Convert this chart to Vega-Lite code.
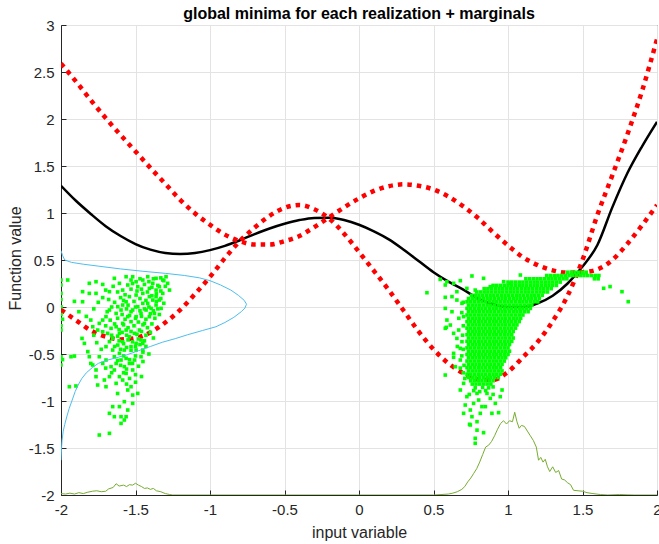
{
"$schema":"https://vega.github.io/schema/vega-lite/v6.json",
"width":596,"height":470,
"autosize":{"type":"none"},
"padding":{"left":61,"top":25,"right":2,"bottom":49},
"background":"white",
"title":{"text":"global minima for each realization + marginals","font":"Liberation Sans","fontSize":16,"fontWeight":"bold","color":"#000000","anchor":"middle","offset":5,"dy":9},
"config":{
 "view":{"stroke":"#262626","strokeWidth":1},
 "axis":{"gridColor":"#e3e3e3","gridWidth":1,"domainColor":"#262626","tickColor":"#262626","tickSize":-5,"labelColor":"#262626","labelFont":"Liberation Sans","labelFontSize":15,"titleFont":"Liberation Sans","titleFontSize":16,"titleColor":"#262626","titleFontWeight":"normal","labelFlush":false,"labelOverlap":false}
},
"datasets":{
"mean":[{"x":-2,"y":1.29},{"x":-1.9,"y":1.13},{"x":-1.8,"y":0.99},{"x":-1.7,"y":0.86},{"x":-1.6,"y":0.755},{"x":-1.5,"y":0.67},{"x":-1.4,"y":0.61},{"x":-1.3,"y":0.575},{"x":-1.2,"y":0.565},{"x":-1.1,"y":0.575},{"x":-1.0,"y":0.605},{"x":-0.9,"y":0.65},{"x":-0.8,"y":0.71},{"x":-0.7,"y":0.775},{"x":-0.6,"y":0.835},{"x":-0.5,"y":0.885},{"x":-0.4,"y":0.925},{"x":-0.3,"y":0.948},{"x":-0.2,"y":0.95},{"x":-0.1,"y":0.925},{"x":0,"y":0.875},{"x":0.1,"y":0.805},{"x":0.2,"y":0.72},{"x":0.3,"y":0.61},{"x":0.4,"y":0.49},{"x":0.5,"y":0.37},{"x":0.6,"y":0.27},{"x":0.7,"y":0.185},{"x":0.8,"y":0.09},{"x":0.9,"y":0.03},{"x":1.0,"y":0.0},{"x":1.1,"y":0.0},{"x":1.2,"y":0.04},{"x":1.3,"y":0.12},{"x":1.4,"y":0.25},{"x":1.5,"y":0.43},{"x":1.6,"y":0.66},{"x":1.7,"y":1.06},{"x":1.8,"y":1.42},{"x":1.9,"y":1.71},{"x":2.0,"y":1.97}],
"c1":[{"x":-2,"y":2.59},{"x":-1.9,"y":2.4},{"x":-1.8,"y":2.2},{"x":-1.7,"y":2.01},{"x":-1.6,"y":1.83},{"x":-1.5,"y":1.655},{"x":-1.4,"y":1.48},{"x":-1.3,"y":1.31},{"x":-1.2,"y":1.14},{"x":-1.1,"y":0.995},{"x":-1.0,"y":0.875},{"x":-0.9,"y":0.77},{"x":-0.8,"y":0.7},{"x":-0.7,"y":0.665},{"x":-0.6,"y":0.665},{"x":-0.5,"y":0.7},{"x":-0.4,"y":0.755},{"x":-0.3,"y":0.85},{"x":-0.2,"y":0.955},{"x":-0.1,"y":1.06},{"x":0,"y":1.155},{"x":0.1,"y":1.235},{"x":0.2,"y":1.285},{"x":0.3,"y":1.305},{"x":0.4,"y":1.29},{"x":0.5,"y":1.25},{"x":0.6,"y":1.175},{"x":0.7,"y":1.07},{"x":0.8,"y":0.945},{"x":0.9,"y":0.795},{"x":1.0,"y":0.655},{"x":1.1,"y":0.53},{"x":1.2,"y":0.445},{"x":1.3,"y":0.39},{"x":1.4,"y":0.365},{"x":1.5,"y":0.37},{"x":1.6,"y":0.4},{"x":1.7,"y":0.5},{"x":1.8,"y":0.67},{"x":1.9,"y":0.87},{"x":2.0,"y":1.085}],
"c2":[{"x":-2,"y":-0.03},{"x":-1.9,"y":-0.14},{"x":-1.8,"y":-0.25},{"x":-1.7,"y":-0.315},{"x":-1.6,"y":-0.345},{"x":-1.5,"y":-0.33},{"x":-1.4,"y":-0.27},{"x":-1.3,"y":-0.165},{"x":-1.2,"y":-0.03},{"x":-1.1,"y":0.14},{"x":-1.0,"y":0.32},{"x":-0.9,"y":0.52},{"x":-0.8,"y":0.7},{"x":-0.7,"y":0.845},{"x":-0.6,"y":0.97},{"x":-0.5,"y":1.055},{"x":-0.4,"y":1.085},{"x":-0.3,"y":1.04},{"x":-0.2,"y":0.94},{"x":-0.1,"y":0.78},{"x":0,"y":0.585},{"x":0.1,"y":0.385},{"x":0.2,"y":0.18},{"x":0.3,"y":-0.04},{"x":0.4,"y":-0.26},{"x":0.5,"y":-0.45},{"x":0.6,"y":-0.6},{"x":0.7,"y":-0.705},{"x":0.8,"y":-0.77},{"x":0.9,"y":-0.775},{"x":1.0,"y":-0.69},{"x":1.1,"y":-0.535},{"x":1.2,"y":-0.37},{"x":1.3,"y":-0.15},{"x":1.4,"y":0.12},{"x":1.5,"y":0.5},{"x":1.6,"y":0.98},{"x":1.7,"y":1.4},{"x":1.8,"y":1.83},{"x":1.9,"y":2.3},{"x":2.0,"y":2.85}],
"xm":[{"x":-2,"y":-1.985},{"x":-1.97,"y":-1.99},{"x":-1.94,"y":-1.98},{"x":-1.91,"y":-1.99},{"x":-1.88,"y":-1.975},{"x":-1.85,"y":-1.985},{"x":-1.82,"y":-1.97},{"x":-1.79,"y":-1.96},{"x":-1.76,"y":-1.955},{"x":-1.73,"y":-1.965},{"x":-1.7,"y":-1.96},{"x":-1.68,"y":-1.935},{"x":-1.65,"y":-1.92},{"x":-1.63,"y":-1.88},{"x":-1.61,"y":-1.905},{"x":-1.58,"y":-1.895},{"x":-1.56,"y":-1.91},{"x":-1.54,"y":-1.89},{"x":-1.52,"y":-1.895},{"x":-1.5,"y":-1.875},{"x":-1.48,"y":-1.895},{"x":-1.46,"y":-1.91},{"x":-1.44,"y":-1.93},{"x":-1.42,"y":-1.925},{"x":-1.4,"y":-1.94},{"x":-1.38,"y":-1.93},{"x":-1.36,"y":-1.955},{"x":-1.33,"y":-1.965},{"x":-1.3,"y":-1.985},{"x":-1.27,"y":-1.995},{"x":-1.25,"y":-2},{"x":0.5,"y":-2},{"x":0.55,"y":-1.995},{"x":0.6,"y":-1.99},{"x":0.63,"y":-1.98},{"x":0.66,"y":-1.965},{"x":0.69,"y":-1.94},{"x":0.71,"y":-1.91},{"x":0.73,"y":-1.86},{"x":0.75,"y":-1.82},{"x":0.77,"y":-1.77},{"x":0.79,"y":-1.72},{"x":0.81,"y":-1.65},{"x":0.83,"y":-1.57},{"x":0.85,"y":-1.49},{"x":0.87,"y":-1.47},{"x":0.89,"y":-1.43},{"x":0.91,"y":-1.37},{"x":0.93,"y":-1.3},{"x":0.95,"y":-1.24},{"x":0.97,"y":-1.21},{"x":0.99,"y":-1.245},{"x":1.01,"y":-1.21},{"x":1.03,"y":-1.22},{"x":1.045,"y":-1.12},{"x":1.06,"y":-1.22},{"x":1.075,"y":-1.29},{"x":1.09,"y":-1.26},{"x":1.11,"y":-1.27},{"x":1.13,"y":-1.32},{"x":1.15,"y":-1.37},{"x":1.17,"y":-1.42},{"x":1.19,"y":-1.49},{"x":1.205,"y":-1.63},{"x":1.22,"y":-1.6},{"x":1.235,"y":-1.65},{"x":1.25,"y":-1.62},{"x":1.265,"y":-1.7},{"x":1.28,"y":-1.75},{"x":1.3,"y":-1.7},{"x":1.32,"y":-1.76},{"x":1.34,"y":-1.74},{"x":1.36,"y":-1.83},{"x":1.38,"y":-1.84},{"x":1.4,"y":-1.87},{"x":1.42,"y":-1.89},{"x":1.44,"y":-1.95},{"x":1.47,"y":-1.955},{"x":1.5,"y":-1.96},{"x":1.53,"y":-1.975},{"x":1.57,"y":-1.985},{"x":1.62,"y":-1.995},{"x":1.67,"y":-2},{"x":1.75,"y":-1.995},{"x":1.8,"y":-1.998},{"x":1.85,"y":-2},{"x":2,"y":-2}],
"ym":[{"x":-2,"y":0.6},{"x":-1.99,"y":0.55},{"x":-1.975,"y":0.5},{"x":-1.93,"y":0.475},{"x":-1.85,"y":0.455},{"x":-1.75,"y":0.435},{"x":-1.6,"y":0.405},{"x":-1.45,"y":0.38},{"x":-1.3,"y":0.358},{"x":-1.17,"y":0.335},{"x":-1.07,"y":0.31},{"x":-1.0,"y":0.28},{"x":-0.93,"y":0.235},{"x":-0.86,"y":0.18},{"x":-0.81,"y":0.125},{"x":-0.77,"y":0.07},{"x":-0.755,"y":0.03},{"x":-0.765,"y":-0.01},{"x":-0.79,"y":-0.05},{"x":-0.84,"y":-0.11},{"x":-0.9,"y":-0.165},{"x":-0.96,"y":-0.21},{"x":-1.05,"y":-0.25},{"x":-1.15,"y":-0.295},{"x":-1.23,"y":-0.335},{"x":-1.32,"y":-0.375},{"x":-1.4,"y":-0.42},{"x":-1.48,"y":-0.465},{"x":-1.56,"y":-0.51},{"x":-1.64,"y":-0.545},{"x":-1.7,"y":-0.57},{"x":-1.75,"y":-0.6},{"x":-1.79,"y":-0.645},{"x":-1.83,"y":-0.7},{"x":-1.86,"y":-0.76},{"x":-1.885,"y":-0.83},{"x":-1.905,"y":-0.9},{"x":-1.925,"y":-0.99},{"x":-1.945,"y":-1.08},{"x":-1.96,"y":-1.16},{"x":-1.975,"y":-1.25},{"x":-1.985,"y":-1.32},{"x":-1.993,"y":-1.42},{"x":-1.997,"y":-1.52},{"x":-2,"y":-1.63}],
"pts":[
{"x":-2.0,"y":0.287},{"x":-2.0,"y":0.234},{"x":-2.0,"y":0.145},{"x":-2.0,"y":0.08},{"x":-2.0,"y":0.003},{"x":-2.0,"y":-0.08},{"x":-1.99,"y":-0.13},{"x":-2.0,"y":-0.2},{"x":-2.0,"y":-0.245},{"x":-1.955,"y":0.287},{"x":-2.0,"y":-0.529},{"x":-1.99,"y":-0.56},{"x":-2.0,"y":-0.617},{"x":-1.944,"y":-0.848},{"x":-1.9,"y":-0.84},{"x":-1.933,"y":-0.529},{"x":-1.91,"y":-0.522},{"x":-1.855,"y":0.163},{"x":-1.855,"y":0.056},{"x":-1.859,"y":-0.334},{"x":-1.843,"y":-0.387},{"x":-1.81,"y":0.252},{"x":-1.81,"y":0.145},{"x":-1.8,"y":-0.139},{"x":-1.787,"y":-0.21},{"x":-1.765,"y":0.269},{"x":-1.765,"y":0.145},{"x":-1.82,"y":-0.475},{"x":-1.81,"y":-0.529},{"x":-1.8,"y":-0.6},{"x":-1.787,"y":-0.617},{"x":-1.765,"y":-0.67},{"x":-1.765,"y":-0.741},{"x":-1.754,"y":-0.83},{"x":-1.743,"y":-1.362},{"x":-1.675,"y":-1.131},{"x":-1.653,"y":-1.06},{"x":-1.642,"y":0.305},{"x":-1.675,"y":0.163},{"x":-1.619,"y":0.003},{"x":-1.608,"y":0.252},{"x":-1.586,"y":0.18},{"x":-1.586,"y":0.021},{"x":-1.563,"y":0.322},{"x":-1.552,"y":0.234},{"x":-1.53,"y":0.287},{"x":-1.519,"y":0.322},{"x":-1.496,"y":0.269},{"x":-1.485,"y":0.216},{"x":-1.451,"y":0.287},{"x":-1.418,"y":0.322},{"x":-1.407,"y":0.198},{"x":-1.384,"y":0.252},{"x":-1.362,"y":0.305},{"x":-1.34,"y":0.216},{"x":-1.317,"y":0.287},{"x":-1.295,"y":0.322},{"x":-1.284,"y":0.252},{"x":-1.272,"y":0.18},{"x":-1.317,"y":0.145},{"x":-1.362,"y":0.11},{"x":-1.407,"y":0.11},{"x":-1.451,"y":0.145},{"x":-1.496,"y":0.127},{"x":-1.541,"y":0.11},{"x":-1.563,"y":0.056},{"x":-1.597,"y":-0.032},{"x":-1.63,"y":-0.068},{"x":-1.675,"y":-0.032},{"x":-1.698,"y":-0.103},{"x":-1.72,"y":-0.139},{"x":-1.743,"y":-0.174},{"x":-1.754,"y":-0.245},{"x":-1.72,"y":-0.263},{"x":-1.687,"y":-0.28},{"x":-1.664,"y":-0.227},{"x":-1.63,"y":-0.21},{"x":-1.586,"y":-0.174},{"x":-1.552,"y":-0.103},{"x":-1.519,"y":-0.032},{"x":-1.485,"y":0.003},{"x":-1.451,"y":0.039},{"x":-1.418,"y":0.039},{"x":-1.384,"y":0.074},{"x":-1.362,"y":0.021},{"x":-1.34,"y":0.074},{"x":-1.463,"y":-0.068},{"x":-1.496,"y":-0.103},{"x":-1.53,"y":-0.156},{"x":-1.563,"y":-0.245},{"x":-1.608,"y":-0.28},{"x":-1.653,"y":-0.334},{"x":-1.675,"y":-0.369},{"x":-1.698,"y":-0.422},{"x":-1.653,"y":-0.458},{"x":-1.619,"y":-0.405},{"x":-1.586,"y":-0.369},{"x":-1.541,"y":-0.316},{"x":-1.507,"y":-0.28},{"x":-1.474,"y":-0.245},{"x":-1.44,"y":-0.174},{"x":-1.407,"y":-0.103},{"x":-1.373,"y":-0.068},{"x":-1.429,"y":-0.032},{"x":-1.395,"y":-0.015},{"x":-1.362,"y":0.18},{"x":-1.328,"y":-0.015},{"x":-1.642,"y":-0.529},{"x":-1.608,"y":-0.493},{"x":-1.575,"y":-0.458},{"x":-1.53,"y":-0.422},{"x":-1.496,"y":-0.387},{"x":-1.463,"y":-0.351},{"x":-1.63,"y":-0.6},{"x":-1.597,"y":-0.564},{"x":-1.563,"y":-0.546},{"x":-1.541,"y":-0.6},{"x":-1.507,"y":-0.564},{"x":-1.575,"y":-0.635},{"x":-1.642,"y":-0.67},{"x":-1.608,"y":-0.741},{"x":-1.586,"y":-0.777},{"x":-1.63,"y":-0.812},{"x":-1.563,"y":-0.706},{"x":-1.519,"y":-0.67},{"x":-1.496,"y":-0.458},{"x":-1.451,"y":-0.458},{"x":-1.463,"y":-0.529},{"x":-1.552,"y":-0.883},{"x":-1.53,"y":-0.848},{"x":-1.485,"y":-0.919},{"x":-1.519,"y":-0.937},{"x":-1.519,"y":-1.025},{"x":-1.575,"y":-1.007},{"x":-1.608,"y":-1.06},{"x":-1.597,"y":-1.167},{"x":-1.642,"y":-1.167},{"x":-1.563,"y":-1.167},{"x":-1.597,"y":-1.238},{"x":-1.675,"y":-1.344},{"x":-1.575,"y":-1.202},{"x":-1.552,"y":-1.096},{"x":-1.451,"y":-0.387},{"x":-1.698,"y":-0.564},{"x":-1.72,"y":-0.6},{"x":-1.743,"y":-0.529},{"x":-1.664,"y":-0.635},{"x":-1.675,"y":-0.741},{"x":-1.709,"y":-0.777},{"x":-1.698,"y":-0.848},
{"x":-1.52,"y":0.25},{"x":-1.47,"y":0.3},{"x":-1.44,"y":0.24},{"x":-1.41,"y":0.27},{"x":-1.39,"y":0.21},{"x":-1.35,"y":0.23},{"x":-1.33,"y":0.17},{"x":-1.3,"y":0.22},{"x":-1.31,"y":0.28},{"x":-1.36,"y":0.14},{"x":-1.42,"y":0.16},{"x":-1.46,"y":0.19},{"x":-1.49,"y":0.17},{"x":-1.53,"y":0.19},{"x":-1.57,"y":0.13},{"x":-1.6,"y":0.1},{"x":-1.62,"y":0.16},{"x":-1.65,"y":0.22},{"x":-1.7,"y":0.18},{"x":-1.72,"y":0.24},{"x":-1.68,"y":0.08},{"x":-1.64,"y":0.05},{"x":-1.58,"y":0.07},{"x":-1.55,"y":0.02},{"x":-1.51,"y":0.06},{"x":-1.47,"y":0.09},{"x":-1.43,"y":0.07},{"x":-1.39,"y":0.12},{"x":-1.36,"y":0.06},{"x":-1.33,"y":0.09},{"x":-1.31,"y":0.04},{"x":-1.35,"y":-0.02},{"x":-1.38,"y":-0.04},{"x":-1.41,"y":0.0},{"x":-1.44,"y":-0.02},{"x":-1.47,"y":-0.04},{"x":-1.5,"y":0.0},{"x":-1.53,"y":-0.05},{"x":-1.56,"y":-0.02},{"x":-1.59,"y":-0.08},{"x":-1.62,"y":-0.12},{"x":-1.57,"y":-0.13},{"x":-1.54,"y":-0.09},{"x":-1.5,"y":-0.12},{"x":-1.46,"y":-0.1},{"x":-1.43,"y":-0.13},{"x":-1.4,"y":-0.07},{"x":-1.37,"y":-0.12},{"x":-1.34,"y":-0.08},{"x":-1.39,"y":-0.18},{"x":-1.42,"y":-0.22},{"x":-1.45,"y":-0.19},{"x":-1.48,"y":-0.16},{"x":-1.51,"y":-0.2},{"x":-1.55,"y":-0.22},{"x":-1.58,"y":-0.19},{"x":-1.61,"y":-0.24},{"x":-1.64,"y":-0.18},{"x":-1.67,"y":-0.14},{"x":-1.7,"y":-0.2},{"x":-1.66,"y":-0.3},{"x":-1.62,"y":-0.31},{"x":-1.59,"y":-0.27},{"x":-1.56,"y":-0.3},{"x":-1.53,"y":-0.26},{"x":-1.49,"y":-0.29},{"x":-1.46,"y":-0.26},{"x":-1.43,"y":-0.3},{"x":-1.4,"y":-0.27},{"x":-1.38,"y":-0.33},{"x":-1.44,"y":-0.36},{"x":-1.48,"y":-0.34},{"x":-1.52,"y":-0.37},{"x":-1.55,"y":-0.35},{"x":-1.58,"y":-0.39},{"x":-1.61,"y":-0.36},{"x":-1.64,"y":-0.42},{"x":-1.6,"y":-0.45},{"x":-1.56,"y":-0.43},{"x":-1.53,"y":-0.46},{"x":-1.5,"y":-0.42},{"x":-1.47,"y":-0.4},{"x":-1.43,"y":-0.42},{"x":-1.41,"y":-0.5},{"x":-1.45,"y":-0.48},{"x":-1.5,"y":-0.52},{"x":-1.54,"y":-0.56},{"x":-1.58,"y":-0.52},{"x":-1.62,"y":-0.57},{"x":-1.6,"y":-0.62},{"x":-1.56,"y":-0.66},{"x":-1.52,"y":-0.6},{"x":-1.48,"y":-0.63},{"x":-1.45,"y":-0.58},{"x":-1.5,"y":-0.72},{"x":-1.54,"y":-0.76},{"x":-1.58,"y":-0.7},{"x":-1.56,"y":-0.82},{"x":-1.5,"y":-0.8},{"x":-1.46,"y":-0.74},{"x":-1.62,"y":-0.92},{"x":-1.66,"y":-0.7},{"x":-1.7,"y":-0.65},{"x":-1.73,"y":-0.45},{"x":-1.76,"y":-0.38},{"x":-1.78,"y":-0.3},{"x":-1.75,"y":0.05},{"x":-1.78,"y":-0.02},{"x":-1.83,"y":-0.1},{"x":-1.88,"y":-0.05},{"x":-1.91,"y":0.06},{"x":-1.72,"y":0.1},{"x":-1.69,"y":-0.05},{"x":-1.66,"y":0.0},{"x":-1.38,"y":0.3},{"x":-1.33,"y":0.31},
{"x":0.456,"y":0.152},{"x":0.545,"y":0.294},{"x":0.579,"y":0.234},{"x":0.59,"y":0.269},{"x":0.635,"y":0.252},{"x":0.68,"y":0.28},{"x":0.758,"y":0.33},{"x":0.836,"y":0.305},{"x":0.881,"y":0.216},{"x":0.971,"y":0.269},{"x":1.016,"y":0.252},{"x":1.083,"y":0.34},{"x":0.624,"y":0.11},{"x":0.657,"y":0.074},{"x":0.579,"y":-0.015},{"x":0.579,"y":0.103},{"x":0.624,"y":-0.05},{"x":0.59,"y":-0.139},{"x":0.579,"y":-0.227},{"x":0.613,"y":-0.192},{"x":0.635,"y":-0.28},{"x":0.657,"y":-0.334},{"x":0.68,"y":-0.44},{"x":0.635,"y":-0.493},{"x":0.579,"y":-0.724},{"x":0.646,"y":-0.635},{"x":0.68,"y":-0.564},{"x":0.691,"y":-0.369},{"x":0.669,"y":-0.245},{"x":0.702,"y":-0.103},{"x":0.691,"y":0.039},{"x":0.657,"y":0.163},{"x":0.724,"y":0.198},{"x":0.78,"y":0.18},{"x":0.702,"y":-0.812},{"x":0.68,"y":-0.883},{"x":0.724,"y":-0.954},{"x":0.713,"y":-1.043},{"x":0.702,"y":-1.131},{"x":0.747,"y":-1.096},{"x":0.758,"y":-1.167},{"x":0.792,"y":-1.22},{"x":0.747,"y":-1.255},{"x":0.814,"y":-1.131},{"x":0.848,"y":-1.06},{"x":0.892,"y":-1.131},{"x":0.937,"y":-1.124},{"x":0.915,"y":-1.025},{"x":0.948,"y":-0.954},{"x":0.96,"y":-0.883},{"x":0.881,"y":-0.972},{"x":0.803,"y":-0.99},{"x":0.769,"y":-1.025},{"x":0.859,"y":-0.919},{"x":0.825,"y":-1.06},{"x":0.792,"y":-0.919},{"x":0.78,"y":-1.397},{"x":0.78,"y":-1.45},{"x":0.836,"y":-1.337},{"x":0.792,"y":-1.31},{"x":0.742,"y":-1.248},{"x":1.642,"y":0.199},{"x":1.685,"y":0.217},{"x":1.765,"y":0.163},{"x":1.807,"y":0.057},{"x":0.7,"y":0.05},{"x":0.69,"y":-0.06},{"x":0.7,"y":-0.2},{"x":0.695,"y":-0.3},{"x":0.7,"y":-0.45},{"x":0.69,"y":-0.52},{"x":0.705,"y":-0.62},{"x":0.7,"y":-0.7},{"x":0.71,"y":-0.76},{"x":0.67,"y":-0.12},{"x":0.66,"y":-0.42},{"x":0.68,"y":-0.65},{"x":0.586,"y":-0.216},{"x":0.635,"y":-0.535},{"x":0.78,"y":-0.86},{"x":0.83,"y":-0.855},{"x":0.87,"y":-0.86},{"x":0.9,"y":-0.85},{"x":0.77,"y":-0.89},{"x":0.81,"y":-0.9},{"x":0.85,"y":-0.89},{"x":0.74,"y":-0.93},{"x":0.9,"y":-0.93},
{"x":1.4,"y":0.37},{"x":1.425,"y":0.37},{"x":1.45,"y":0.37},{"x":1.475,"y":0.37},{"x":1.5,"y":0.37},{"x":1.525,"y":0.37},
{"x":1.26,"y":0.335},{"x":1.285,"y":0.335},{"x":1.31,"y":0.335},{"x":1.335,"y":0.335},{"x":1.36,"y":0.335},{"x":1.385,"y":0.335},{"x":1.41,"y":0.335},{"x":1.435,"y":0.335},{"x":1.46,"y":0.335},{"x":1.485,"y":0.335},{"x":1.51,"y":0.335},{"x":1.535,"y":0.335},{"x":1.56,"y":0.335},{"x":1.585,"y":0.335},{"x":1.61,"y":0.335},
{"x":1.12,"y":0.3},{"x":1.145,"y":0.3},{"x":1.17,"y":0.3},{"x":1.195,"y":0.3},{"x":1.22,"y":0.3},{"x":1.245,"y":0.3},{"x":1.27,"y":0.3},{"x":1.295,"y":0.3},{"x":1.32,"y":0.3},{"x":1.345,"y":0.3},{"x":1.37,"y":0.3},{"x":1.395,"y":0.3},{"x":1.58,"y":0.3},{"x":1.605,"y":0.3},
{"x":1.0,"y":0.265},{"x":1.025,"y":0.265},{"x":1.05,"y":0.265},{"x":1.075,"y":0.265},{"x":1.1,"y":0.265},{"x":1.125,"y":0.265},{"x":1.15,"y":0.265},{"x":1.175,"y":0.265},{"x":1.2,"y":0.265},{"x":1.225,"y":0.265},{"x":1.25,"y":0.265},{"x":1.275,"y":0.265},{"x":1.3,"y":0.265},{"x":1.325,"y":0.265},{"x":1.35,"y":0.265},
{"x":0.9,"y":0.23},{"x":0.925,"y":0.23},{"x":0.95,"y":0.23},{"x":0.975,"y":0.23},{"x":1.0,"y":0.23},{"x":1.025,"y":0.23},{"x":1.05,"y":0.23},{"x":1.075,"y":0.23},{"x":1.1,"y":0.23},{"x":1.125,"y":0.23},{"x":1.15,"y":0.23},{"x":1.175,"y":0.23},{"x":1.2,"y":0.23},{"x":1.225,"y":0.23},{"x":1.25,"y":0.23},{"x":1.275,"y":0.23},{"x":1.3,"y":0.23},{"x":1.325,"y":0.23},
{"x":0.84,"y":0.195},{"x":0.865,"y":0.195},{"x":0.89,"y":0.195},{"x":0.915,"y":0.195},{"x":0.94,"y":0.195},{"x":0.965,"y":0.195},{"x":0.99,"y":0.195},{"x":1.015,"y":0.195},{"x":1.04,"y":0.195},{"x":1.065,"y":0.195},{"x":1.09,"y":0.195},{"x":1.115,"y":0.195},{"x":1.14,"y":0.195},{"x":1.165,"y":0.195},{"x":1.19,"y":0.195},{"x":1.215,"y":0.195},{"x":1.24,"y":0.195},{"x":1.265,"y":0.195},{"x":1.29,"y":0.195},
{"x":0.79,"y":0.16},{"x":0.815,"y":0.16},{"x":0.84,"y":0.16},{"x":0.865,"y":0.16},{"x":0.89,"y":0.16},{"x":0.915,"y":0.16},{"x":0.94,"y":0.16},{"x":0.965,"y":0.16},{"x":0.99,"y":0.16},{"x":1.015,"y":0.16},{"x":1.04,"y":0.16},{"x":1.065,"y":0.16},{"x":1.09,"y":0.16},{"x":1.115,"y":0.16},{"x":1.14,"y":0.16},{"x":1.165,"y":0.16},{"x":1.19,"y":0.16},{"x":1.215,"y":0.16},{"x":1.24,"y":0.16},{"x":1.265,"y":0.16},
{"x":0.755,"y":0.125},{"x":0.78,"y":0.125},{"x":0.805,"y":0.125},{"x":0.83,"y":0.125},{"x":0.855,"y":0.125},{"x":0.88,"y":0.125},{"x":0.905,"y":0.125},{"x":0.93,"y":0.125},{"x":0.955,"y":0.125},{"x":0.98,"y":0.125},{"x":1.005,"y":0.125},{"x":1.03,"y":0.125},{"x":1.055,"y":0.125},{"x":1.08,"y":0.125},{"x":1.105,"y":0.125},{"x":1.13,"y":0.125},{"x":1.155,"y":0.125},{"x":1.18,"y":0.125},{"x":1.205,"y":0.125},{"x":1.23,"y":0.125},
{"x":0.735,"y":0.09},{"x":0.76,"y":0.09},{"x":0.785,"y":0.09},{"x":0.81,"y":0.09},{"x":0.835,"y":0.09},{"x":0.86,"y":0.09},{"x":0.885,"y":0.09},{"x":0.91,"y":0.09},{"x":0.935,"y":0.09},{"x":0.96,"y":0.09},{"x":0.985,"y":0.09},{"x":1.01,"y":0.09},{"x":1.035,"y":0.09},{"x":1.06,"y":0.09},{"x":1.085,"y":0.09},{"x":1.11,"y":0.09},{"x":1.135,"y":0.09},{"x":1.16,"y":0.09},{"x":1.185,"y":0.09},{"x":1.21,"y":0.09},
{"x":0.725,"y":0.055},{"x":0.75,"y":0.055},{"x":0.775,"y":0.055},{"x":0.8,"y":0.055},{"x":0.825,"y":0.055},{"x":0.85,"y":0.055},{"x":0.875,"y":0.055},{"x":0.9,"y":0.055},{"x":0.925,"y":0.055},{"x":0.95,"y":0.055},{"x":0.975,"y":0.055},{"x":1.0,"y":0.055},{"x":1.025,"y":0.055},{"x":1.05,"y":0.055},{"x":1.075,"y":0.055},{"x":1.1,"y":0.055},{"x":1.125,"y":0.055},{"x":1.15,"y":0.055},{"x":1.175,"y":0.055},{"x":1.2,"y":0.055},
{"x":0.735,"y":0.02},{"x":0.76,"y":0.02},{"x":0.785,"y":0.02},{"x":0.81,"y":0.02},{"x":0.835,"y":0.02},{"x":0.86,"y":0.02},{"x":0.885,"y":0.02},{"x":0.91,"y":0.02},{"x":0.935,"y":0.02},{"x":0.96,"y":0.02},{"x":0.985,"y":0.02},{"x":1.01,"y":0.02},{"x":1.035,"y":0.02},{"x":1.06,"y":0.02},{"x":1.085,"y":0.02},{"x":1.11,"y":0.02},{"x":1.135,"y":0.02},{"x":1.16,"y":0.02},
{"x":0.725,"y":-0.015},{"x":0.75,"y":-0.015},{"x":0.775,"y":-0.015},{"x":0.8,"y":-0.015},{"x":0.825,"y":-0.015},{"x":0.85,"y":-0.015},{"x":0.875,"y":-0.015},{"x":0.9,"y":-0.015},{"x":0.925,"y":-0.015},{"x":0.95,"y":-0.015},{"x":0.975,"y":-0.015},{"x":1.0,"y":-0.015},{"x":1.025,"y":-0.015},{"x":1.05,"y":-0.015},{"x":1.075,"y":-0.015},{"x":1.1,"y":-0.015},{"x":1.125,"y":-0.015},{"x":1.15,"y":-0.015},
{"x":0.735,"y":-0.05},{"x":0.76,"y":-0.05},{"x":0.785,"y":-0.05},{"x":0.81,"y":-0.05},{"x":0.835,"y":-0.05},{"x":0.86,"y":-0.05},{"x":0.885,"y":-0.05},{"x":0.91,"y":-0.05},{"x":0.935,"y":-0.05},{"x":0.96,"y":-0.05},{"x":0.985,"y":-0.05},{"x":1.01,"y":-0.05},{"x":1.035,"y":-0.05},{"x":1.06,"y":-0.05},{"x":1.085,"y":-0.05},{"x":1.11,"y":-0.05},{"x":1.135,"y":-0.05},
{"x":0.725,"y":-0.085},{"x":0.75,"y":-0.085},{"x":0.775,"y":-0.085},{"x":0.8,"y":-0.085},{"x":0.825,"y":-0.085},{"x":0.85,"y":-0.085},{"x":0.875,"y":-0.085},{"x":0.9,"y":-0.085},{"x":0.925,"y":-0.085},{"x":0.95,"y":-0.085},{"x":0.975,"y":-0.085},{"x":1.0,"y":-0.085},{"x":1.025,"y":-0.085},{"x":1.05,"y":-0.085},{"x":1.075,"y":-0.085},{"x":1.1,"y":-0.085},
{"x":0.735,"y":-0.12},{"x":0.76,"y":-0.12},{"x":0.785,"y":-0.12},{"x":0.81,"y":-0.12},{"x":0.835,"y":-0.12},{"x":0.86,"y":-0.12},{"x":0.885,"y":-0.12},{"x":0.91,"y":-0.12},{"x":0.935,"y":-0.12},{"x":0.96,"y":-0.12},{"x":0.985,"y":-0.12},{"x":1.01,"y":-0.12},{"x":1.035,"y":-0.12},{"x":1.06,"y":-0.12},{"x":1.085,"y":-0.12},
{"x":0.725,"y":-0.155},{"x":0.75,"y":-0.155},{"x":0.775,"y":-0.155},{"x":0.8,"y":-0.155},{"x":0.825,"y":-0.155},{"x":0.85,"y":-0.155},{"x":0.875,"y":-0.155},{"x":0.9,"y":-0.155},{"x":0.925,"y":-0.155},{"x":0.95,"y":-0.155},{"x":0.975,"y":-0.155},{"x":1.0,"y":-0.155},{"x":1.025,"y":-0.155},{"x":1.05,"y":-0.155},{"x":1.075,"y":-0.155},
{"x":0.735,"y":-0.19},{"x":0.76,"y":-0.19},{"x":0.785,"y":-0.19},{"x":0.81,"y":-0.19},{"x":0.835,"y":-0.19},{"x":0.86,"y":-0.19},{"x":0.885,"y":-0.19},{"x":0.91,"y":-0.19},{"x":0.935,"y":-0.19},{"x":0.96,"y":-0.19},{"x":0.985,"y":-0.19},{"x":1.01,"y":-0.19},{"x":1.035,"y":-0.19},{"x":1.06,"y":-0.19},
{"x":0.725,"y":-0.225},{"x":0.75,"y":-0.225},{"x":0.775,"y":-0.225},{"x":0.8,"y":-0.225},{"x":0.825,"y":-0.225},{"x":0.85,"y":-0.225},{"x":0.875,"y":-0.225},{"x":0.9,"y":-0.225},{"x":0.925,"y":-0.225},{"x":0.95,"y":-0.225},{"x":0.975,"y":-0.225},{"x":1.0,"y":-0.225},{"x":1.025,"y":-0.225},{"x":1.05,"y":-0.225},
{"x":0.735,"y":-0.26},{"x":0.76,"y":-0.26},{"x":0.785,"y":-0.26},{"x":0.81,"y":-0.26},{"x":0.835,"y":-0.26},{"x":0.86,"y":-0.26},{"x":0.885,"y":-0.26},{"x":0.91,"y":-0.26},{"x":0.935,"y":-0.26},{"x":0.96,"y":-0.26},{"x":0.985,"y":-0.26},{"x":1.01,"y":-0.26},{"x":1.035,"y":-0.26},
{"x":0.725,"y":-0.295},{"x":0.75,"y":-0.295},{"x":0.775,"y":-0.295},{"x":0.8,"y":-0.295},{"x":0.825,"y":-0.295},{"x":0.85,"y":-0.295},{"x":0.875,"y":-0.295},{"x":0.9,"y":-0.295},{"x":0.925,"y":-0.295},{"x":0.95,"y":-0.295},{"x":0.975,"y":-0.295},{"x":1.0,"y":-0.295},{"x":1.025,"y":-0.295},
{"x":0.735,"y":-0.33},{"x":0.76,"y":-0.33},{"x":0.785,"y":-0.33},{"x":0.81,"y":-0.33},{"x":0.835,"y":-0.33},{"x":0.86,"y":-0.33},{"x":0.885,"y":-0.33},{"x":0.91,"y":-0.33},{"x":0.935,"y":-0.33},{"x":0.96,"y":-0.33},{"x":0.985,"y":-0.33},{"x":1.01,"y":-0.33},{"x":1.035,"y":-0.33},
{"x":0.725,"y":-0.365},{"x":0.75,"y":-0.365},{"x":0.775,"y":-0.365},{"x":0.8,"y":-0.365},{"x":0.825,"y":-0.365},{"x":0.85,"y":-0.365},{"x":0.875,"y":-0.365},{"x":0.9,"y":-0.365},{"x":0.925,"y":-0.365},{"x":0.95,"y":-0.365},{"x":0.975,"y":-0.365},{"x":1.0,"y":-0.365},{"x":1.025,"y":-0.365},
{"x":0.735,"y":-0.4},{"x":0.76,"y":-0.4},{"x":0.785,"y":-0.4},{"x":0.81,"y":-0.4},{"x":0.835,"y":-0.4},{"x":0.86,"y":-0.4},{"x":0.885,"y":-0.4},{"x":0.91,"y":-0.4},{"x":0.935,"y":-0.4},{"x":0.96,"y":-0.4},{"x":0.985,"y":-0.4},{"x":1.01,"y":-0.4},
{"x":0.725,"y":-0.435},{"x":0.75,"y":-0.435},{"x":0.775,"y":-0.435},{"x":0.8,"y":-0.435},{"x":0.825,"y":-0.435},{"x":0.85,"y":-0.435},{"x":0.875,"y":-0.435},{"x":0.9,"y":-0.435},{"x":0.925,"y":-0.435},{"x":0.95,"y":-0.435},{"x":0.975,"y":-0.435},{"x":1.0,"y":-0.435},
{"x":0.735,"y":-0.47},{"x":0.76,"y":-0.47},{"x":0.785,"y":-0.47},{"x":0.81,"y":-0.47},{"x":0.835,"y":-0.47},{"x":0.86,"y":-0.47},{"x":0.885,"y":-0.47},{"x":0.91,"y":-0.47},{"x":0.935,"y":-0.47},{"x":0.96,"y":-0.47},{"x":0.985,"y":-0.47},{"x":1.01,"y":-0.47},
{"x":0.725,"y":-0.505},{"x":0.75,"y":-0.505},{"x":0.775,"y":-0.505},{"x":0.8,"y":-0.505},{"x":0.825,"y":-0.505},{"x":0.85,"y":-0.505},{"x":0.875,"y":-0.505},{"x":0.9,"y":-0.505},{"x":0.925,"y":-0.505},{"x":0.95,"y":-0.505},{"x":0.975,"y":-0.505},{"x":1.0,"y":-0.505},
{"x":0.735,"y":-0.54},{"x":0.76,"y":-0.54},{"x":0.785,"y":-0.54},{"x":0.81,"y":-0.54},{"x":0.835,"y":-0.54},{"x":0.86,"y":-0.54},{"x":0.885,"y":-0.54},{"x":0.91,"y":-0.54},{"x":0.935,"y":-0.54},{"x":0.96,"y":-0.54},{"x":0.985,"y":-0.54},
{"x":0.725,"y":-0.575},{"x":0.75,"y":-0.575},{"x":0.775,"y":-0.575},{"x":0.8,"y":-0.575},{"x":0.825,"y":-0.575},{"x":0.85,"y":-0.575},{"x":0.875,"y":-0.575},{"x":0.9,"y":-0.575},{"x":0.925,"y":-0.575},{"x":0.95,"y":-0.575},{"x":0.975,"y":-0.575},
{"x":0.735,"y":-0.61},{"x":0.76,"y":-0.61},{"x":0.785,"y":-0.61},{"x":0.81,"y":-0.61},{"x":0.835,"y":-0.61},{"x":0.86,"y":-0.61},{"x":0.885,"y":-0.61},{"x":0.91,"y":-0.61},{"x":0.935,"y":-0.61},{"x":0.96,"y":-0.61},
{"x":0.725,"y":-0.645},{"x":0.75,"y":-0.645},{"x":0.775,"y":-0.645},{"x":0.8,"y":-0.645},{"x":0.825,"y":-0.645},{"x":0.85,"y":-0.645},{"x":0.875,"y":-0.645},{"x":0.9,"y":-0.645},{"x":0.925,"y":-0.645},{"x":0.95,"y":-0.645},
{"x":0.735,"y":-0.68},{"x":0.76,"y":-0.68},{"x":0.785,"y":-0.68},{"x":0.81,"y":-0.68},{"x":0.835,"y":-0.68},{"x":0.86,"y":-0.68},{"x":0.885,"y":-0.68},{"x":0.91,"y":-0.68},{"x":0.935,"y":-0.68},{"x":0.96,"y":-0.68},
{"x":0.725,"y":-0.715},{"x":0.75,"y":-0.715},{"x":0.775,"y":-0.715},{"x":0.8,"y":-0.715},{"x":0.825,"y":-0.715},{"x":0.85,"y":-0.715},{"x":0.875,"y":-0.715},{"x":0.9,"y":-0.715},{"x":0.925,"y":-0.715},{"x":0.95,"y":-0.715},
{"x":0.735,"y":-0.75},{"x":0.76,"y":-0.75},{"x":0.785,"y":-0.75},{"x":0.81,"y":-0.75},{"x":0.835,"y":-0.75},{"x":0.86,"y":-0.75},{"x":0.885,"y":-0.75},{"x":0.91,"y":-0.75},{"x":0.935,"y":-0.75},
{"x":0.75,"y":-0.785},{"x":0.775,"y":-0.785},{"x":0.8,"y":-0.785},{"x":0.825,"y":-0.785},{"x":0.85,"y":-0.785},{"x":0.875,"y":-0.785},{"x":0.9,"y":-0.785},
{"x":0.76,"y":-0.82},{"x":0.785,"y":-0.82},{"x":0.81,"y":-0.82},{"x":0.835,"y":-0.82},{"x":0.86,"y":-0.82},{"x":0.885,"y":-0.82}
]
},
"encoding":{
 "x":{"field":"x","type":"quantitative","scale":{"domain":[-2,2],"nice":false,"zero":false},"axis":{"title":"input variable","values":[-2,-1.5,-1,-0.5,0,0.5,1,1.5,2],"labelExpr":"''+datum.value","labelPadding":12,"titleY":29,"titleBaseline":"top"}},
 "y":{"field":"y","type":"quantitative","scale":{"domain":[-2,3],"nice":false,"zero":false},"axis":{"title":"Function value","values":[-2,-1.5,-1,-0.5,0,0.5,1,1.5,2,2.5,3],"labelExpr":"''+datum.value","labelPadding":12,"titleX":-38,"titleY":233}}
},
"layer":[
 {"data":{"name":"mean"},"mark":{"type":"line","color":"#000000","strokeWidth":2.5,"interpolate":"monotone","clip":true}},
 {"data":{"name":"c1"},"mark":{"type":"line","color":"#ff0000","strokeWidth":4.5,"strokeDash":[4.5,5],"interpolate":"monotone","clip":true}},
 {"data":{"name":"c2"},"mark":{"type":"line","color":"#ff0000","strokeWidth":4.5,"strokeDash":[4.5,5],"interpolate":"monotone","clip":true}},
 {"data":{"name":"pts"},"mark":{"type":"square","color":"#00ff00","size":13,"opacity":1,"filled":true,"clip":true}},
 {"data":{"name":"ym"},"mark":{"type":"line","color":"#4dbeee","strokeWidth":1,"interpolate":"linear","clip":true},"encoding":{"order":{"field":"y","type":"quantitative"}}},
 {"data":{"name":"xm"},"mark":{"type":"line","color":"#77ac30","strokeWidth":1,"clip":true}}
]
}
